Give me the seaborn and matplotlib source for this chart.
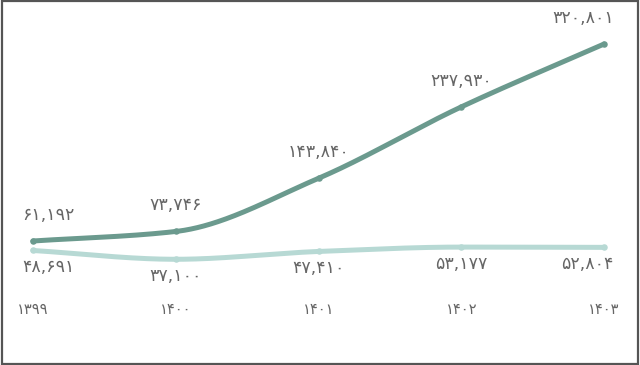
import numpy as np
import pandas as pd
import matplotlib
matplotlib.use("Agg")
import matplotlib.pyplot as plt
from matplotlib.patches import Rectangle
import seaborn as sns

years = ["1399", "1400", "1401", "1402", "1403"]
series_top = [61192, 73746, 143840, 237930, 320801]
series_bottom = [48691, 37100, 47410, 53177, 52804]

C_TOP = "#6b9a8e"
C_BOT = "#b7d9d4"
C_TXT = "#666666"

sns.set_theme(style="white")
plt.rcParams["font.family"] = ["DejaVu Sans"]

FA = str.maketrans("0123456789", "۰۱۲۳۴۵۶۷۸۹")
def fa(s):
    return str(s).translate(FA)

def pchip(x, y, n=200):
    x = np.asarray(x, float); y = np.asarray(y, float)
    h = np.diff(x); d = np.diff(y) / h
    m = np.zeros_like(y)
    for k in range(1, len(x) - 1):
        if d[k - 1] * d[k] > 0:
            w1 = 2 * h[k] + h[k - 1]; w2 = h[k] + 2 * h[k - 1]
            m[k] = (w1 + w2) / (w1 / d[k - 1] + w2 / d[k])
    m[0] = d[0]; m[-1] = d[-1]
    xs, ys = [], []
    for k in range(len(x) - 1):
        t = np.linspace(0, 1, n)
        h00 = 2*t**3 - 3*t**2 + 1; h10 = t**3 - 2*t**2 + t
        h01 = -2*t**3 + 3*t**2; h11 = t**3 - t**2
        xs.append(x[k] + t * h[k])
        ys.append(h00*y[k] + h10*h[k]*m[k] + h01*y[k+1] + h11*h[k]*m[k+1])
    return np.concatenate(xs), np.concatenate(ys)

idx = np.arange(len(years))

fig = plt.figure(figsize=(6.4, 3.65), dpi=100)
ax = fig.add_axes([0, 0, 1, 1])
ax.set_facecolor("white")

for vals, col in [(series_bottom, C_BOT), (series_top, C_TOP)]:
    sx, sy = pchip(idx, vals)
    sns.lineplot(x=sx, y=sy, ax=ax, color=col, linewidth=3.6, sort=False,
                 estimator=None, solid_capstyle="round")
    sns.scatterplot(x=idx, y=vals, ax=ax, color=col, s=22, linewidth=0, zorder=3)

n = len(years)
for i in range(n):
    if i == 0:
        ha, dx = "left", -8
    elif i == n - 1:
        ha, dx = "right", 7
    else:
        ha, dx = "center", 0
    ax.annotate(fa(f"{series_top[i]:,}"), (idx[i], series_top[i]),
                xytext=(dx, 19), textcoords="offset points",
                ha=ha, va="center", fontsize=12.5, color=C_TXT)
    ax.annotate(fa(f"{series_bottom[i]:,}"), (idx[i], series_bottom[i]),
                xytext=(dx, -12), textcoords="offset points",
                ha=ha, va="center", fontsize=12.5, color=C_TXT)
    ax.text(idx[i], 0.151, fa(years[i]), transform=ax.get_xaxis_transform(),
            ha="center", va="center", fontsize=10.5, color=C_TXT)

ax.set_xlim(-0.231, 4.252)
ax.set_ylim(-102240, 378830)
ax.set_xticks([]); ax.set_yticks([])
for s in ax.spines.values():
    s.set_visible(False)

fig.patches.append(Rectangle((0.003, 0.004), 0.994, 0.992, transform=fig.transFigure,
                             fill=False, edgecolor="#555555", linewidth=1.6, zorder=10))

fig.savefig("out.png", dpi=100)
